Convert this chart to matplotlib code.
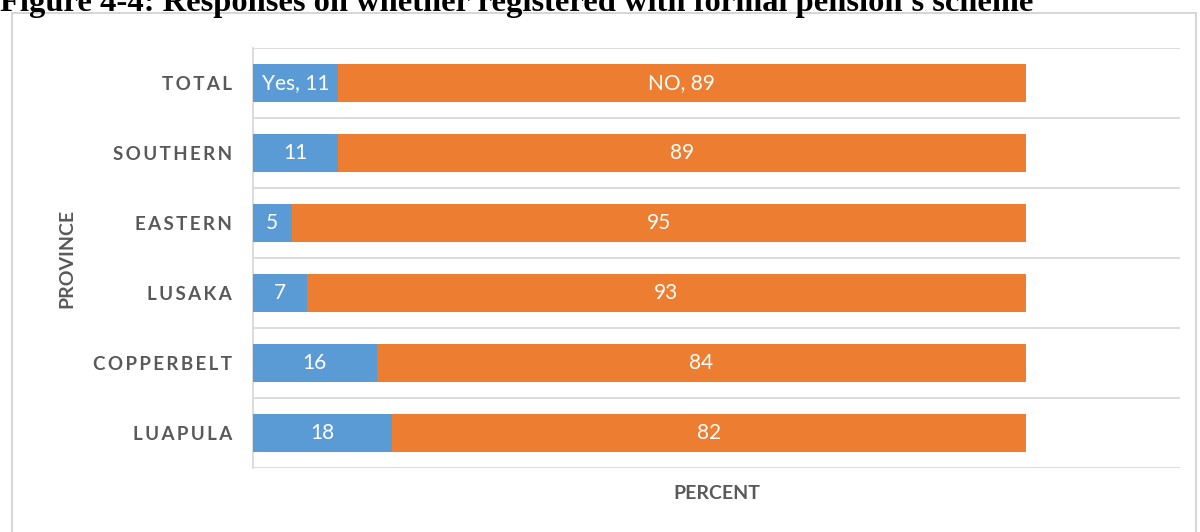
import matplotlib.pyplot as plt
from matplotlib.patches import Rectangle

# Share of respondents registered with a formal pension scheme, by province
provinces = ["LUAPULA", "COPPERBELT", "LUSAKA", "EASTERN", "SOUTHERN", "TOTAL"]
yes_pct = [18, 16, 7, 5, 11, 11]
no_pct = [82, 84, 93, 95, 89, 89]

blue = "#5B9BD5"
orange = "#ED7D31"
grey_text = "#595959"
grid_col = "#D9D9D9"

fig = plt.figure(figsize=(12, 5.32), dpi=100)
ax = fig.add_axes([253 / 1200, 1 - 468 / 532, (1180 - 253) / 1200, 420 / 532])

y = list(range(len(provinces)))
ax.barh(y, yes_pct, height=0.55, color=blue, zorder=3)
ax.barh(y, no_pct, left=yes_pct, height=0.55, color=orange, zorder=3)

# value labels inside the segments
for i, (a, b) in enumerate(zip(yes_pct, no_pct)):
    lab_a = f"Yes, {a}" if provinces[i] == "TOTAL" else str(a)
    lab_b = f"NO, {b}" if provinces[i] == "TOTAL" else str(b)
    ax.text(a / 2, i, lab_a, ha="center", va="center", color="white",
            fontsize=15, family="Lato", zorder=4)
    ax.text(a + b / 2, i, lab_b, ha="center", va="center", color="white",
            fontsize=15, family="Lato", zorder=4)

ax.set_xlim(0, 120)
ax.set_ylim(-0.5, len(provinces) - 0.5)

# horizontal separators between categories
for k in range(len(provinces) + 1):
    ax.axhline(k - 0.5, color=grid_col, lw=1.3, zorder=1)

for s in ["top", "right", "bottom"]:
    ax.spines[s].set_visible(False)
ax.spines["left"].set_color(grid_col)
ax.spines["left"].set_linewidth(1.3)

ax.set_xticks([])
ax.set_yticks(y)
ax.set_yticklabels(["\u2009".join(p) for p in provinces],
                   family=["Lato", "DejaVu Sans"], fontsize=13.5,
                   fontweight="bold", color=grey_text)
ax.tick_params(axis="y", length=0, pad=15)

ax.set_xlabel("PERCENT", family="Lato", fontsize=14,
              fontweight="bold", color=grey_text, labelpad=12)
ax.set_ylabel("PROVINCE", family="Lato", fontsize=14,
              fontweight="bold", color=grey_text, labelpad=0)
ax.yaxis.set_label_coords(-0.192, 0.5)

# outer chart border
fig.patches.append(Rectangle((12 / 1200, -0.1), (1196 - 12) / 1200,
                             1.1 - 13 / 532, transform=fig.transFigure,
                             fill=False, edgecolor="#D0D0D0", lw=1.2))

fig.text(0.0, 1 - 11 / 532, "Figure 4-4: Responses on whether registered with formal pension's scheme",
         family="Liberation Serif", fontweight="bold", fontsize=23.4,
         ha="left", va="baseline", color="black")

fig.savefig("out.png", dpi=100)
